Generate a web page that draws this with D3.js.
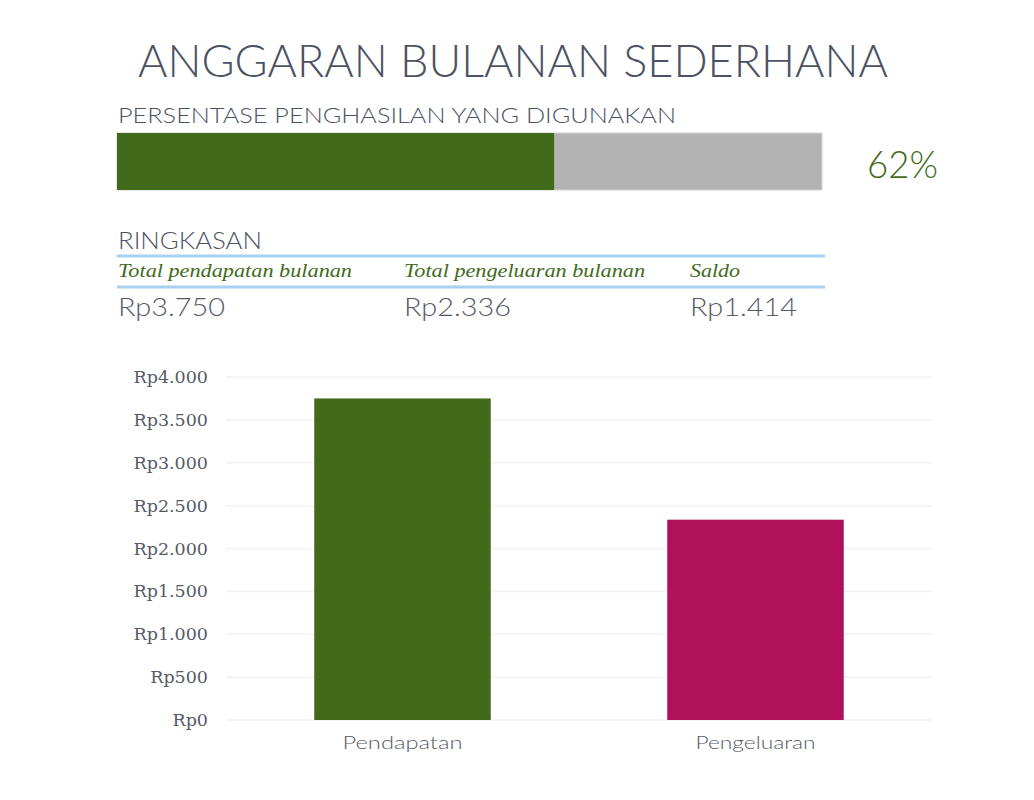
<!DOCTYPE html>
<html><head><meta charset="utf-8">
<script src="https://cdn.jsdelivr.net/npm/d3@7/dist/d3.min.js"></script>
<style>body{margin:0;background:#fff}</style>
</head><body>
<script>
const title = "ANGGARAN BULANAN SEDERHANA";
const subtitle = "PERSENTASE PENGHASILAN YANG DIGUNAKAN";
const usedPercent = [62];
const summaryTitle = "RINGKASAN";
const summaryLabels = ["Total pendapatan bulanan", "Total pengeluaran bulanan", "Saldo"];
const summaryValues = [3750, 2336, 1414];
const categories = ["Pendapatan", "Pengeluaran"];
const values = [3750, 2336];
const yTicks = [0, 500, 1000, 1500, 2000, 2500, 3000, 3500, 4000];

const fmt = v => "Rp" + d3.format(",")(v).replace(/,/g, ".");
const W = 1034, H = 800;
const svg = d3.select("body").append("svg").attr("width", W).attr("height", H);
const sans = "Lato, 'Open Sans', sans-serif";
const serif = "'DejaVu Serif', 'Liberation Serif', serif";
const textCol = "#4b5263";
const green = "#416b1b", pink = "#b1115a";

svg.append("text").attr("x", 138).attr("y", 77).attr("textLength", 750).attr("lengthAdjust", "spacingAndGlyphs")
  .attr("font-family", sans).attr("font-weight", 300).attr("font-size", 45).attr("fill", textCol).text(title);

svg.append("text").attr("x", 118).attr("y", 123).attr("textLength", 558).attr("lengthAdjust", "spacingAndGlyphs")
  .attr("font-family", sans).attr("font-weight", 300).attr("font-size", 22).attr("fill", textCol).text(subtitle);

// progress bar
const px = d3.scaleLinear().domain([0, 100]).range([117, 822]);
svg.append("rect").attr("x", px(0)).attr("y", 133).attr("width", px(100) - px(0)).attr("height", 57)
  .attr("fill", "#b3b3b3").attr("stroke", "#d4d4d4").attr("stroke-width", 1);
svg.selectAll("rect.used").data(usedPercent).join("rect").attr("class", "used")
  .attr("x", px(0)).attr("y", 133).attr("width", d => px(d) - px(0)).attr("height", 57).attr("fill", green);
svg.selectAll("text.pct").data(usedPercent).join("text").attr("class", "pct")
  .attr("x", 867).attr("y", 178).attr("textLength", 71).attr("lengthAdjust", "spacingAndGlyphs")
  .attr("font-family", sans).attr("font-weight", 300).attr("font-size", 38).attr("fill", green).text(d => d + "%");

// summary
svg.append("text").attr("x", 118).attr("y", 249).attr("textLength", 144).attr("lengthAdjust", "spacingAndGlyphs")
  .attr("font-family", sans).attr("font-weight", 300).attr("font-size", 23).attr("fill", textCol).text(summaryTitle);
[256, 287].forEach(y => svg.append("line").attr("x1", 117).attr("x2", 825).attr("y1", y).attr("y2", y)
  .attr("stroke", "#a9cff2").attr("stroke-width", 3));
const colX = [118, 404, 690];
const labW = [234, 241, 50];
const valW = [107, 107, 107];
svg.selectAll("text.lab").data(summaryLabels).join("text").attr("class", "lab")
  .attr("x", (d, i) => colX[i]).attr("y", 277).attr("font-family", "'Liberation Serif', serif").attr("font-style", "italic")
  .attr("font-size", 19).attr("textLength", (d, i) => labW[i]).attr("lengthAdjust", "spacingAndGlyphs")
  .attr("fill", green).text(d => d);
svg.selectAll("text.val").data(summaryValues).join("text").attr("class", "val")
  .attr("x", (d, i) => colX[i]).attr("y", 316).attr("font-family", sans).attr("font-weight", 300).attr("font-size", 26)
  .attr("textLength", (d, i) => valW[i]).attr("lengthAdjust", "spacingAndGlyphs")
  .attr("fill", "#555a66").text(d => fmt(d));

// bar chart
const y = d3.scaleLinear().domain([0, 4000]).range([720, 377]);
const x = d3.scaleBand().domain(categories).range([226, 932]).paddingInner(0.5).paddingOuter(0.25);
const g = svg.append("g");
g.selectAll("line.grid").data(yTicks).join("line").attr("class", "grid")
  .attr("x1", 226).attr("x2", 932).attr("y1", d => y(d)).attr("y2", d => y(d))
  .attr("stroke", "#f2f2f2").attr("stroke-width", 1.5);
const yAxis = g.append("g").attr("transform", "translate(226,0)")
  .call(d3.axisLeft(y).tickValues(yTicks).tickFormat(fmt).tickSize(0).tickPadding(18));
yAxis.select(".domain").remove();
yAxis.selectAll("text").attr("font-family", serif).attr("font-size", 17.5).attr("fill", "#555a66");
g.selectAll("rect.bar").data(values).join("rect").attr("class", "bar")
  .attr("x", (d, i) => x(categories[i])).attr("width", x.bandwidth())
  .attr("y", d => y(d)).attr("height", d => y(0) - y(d))
  .attr("fill", (d, i) => i === 0 ? green : pink);
const xAxis = g.append("g").attr("transform", "translate(0,720)")
  .call(d3.axisBottom(x).tickSize(0).tickPadding(16));
xAxis.select(".domain").remove();
xAxis.selectAll("text").attr("font-family", sans).attr("font-weight", 300).attr("font-size", 18)
  .attr("textLength", 120).attr("lengthAdjust", "spacingAndGlyphs")
  .attr("transform", "translate(-60,0)").attr("text-anchor", "start").attr("fill", "#555a66");
</script>
</body></html>
